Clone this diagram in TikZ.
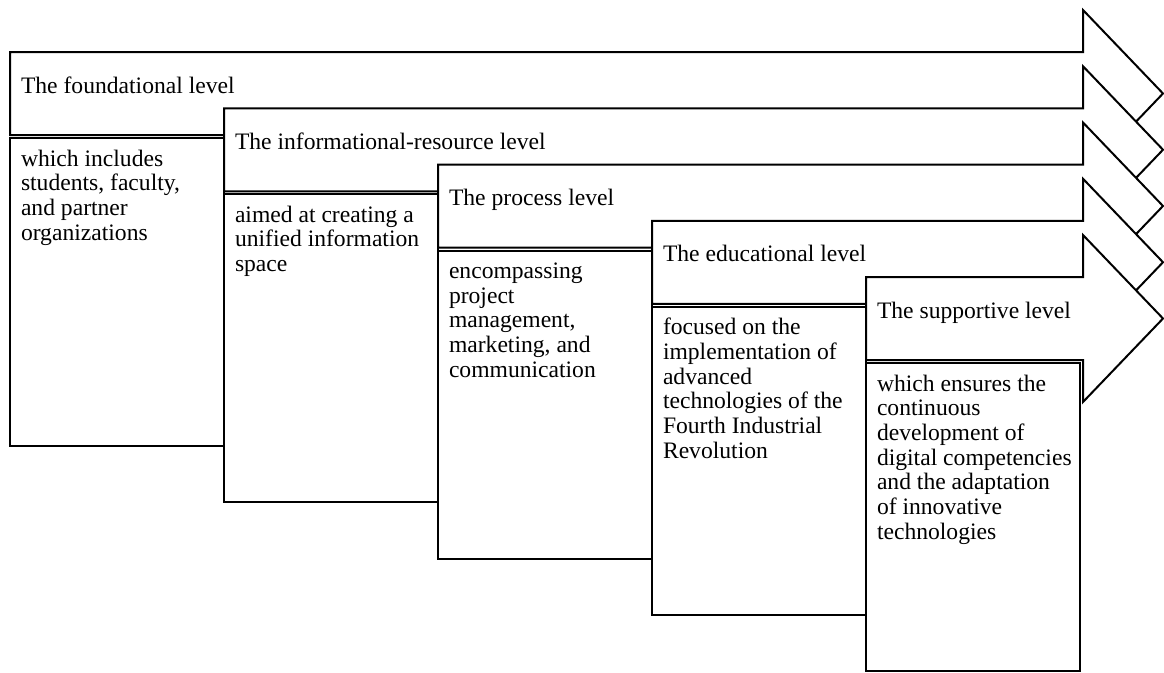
\documentclass[tikz,border=0pt]{standalone}
\usepackage{fontspec}
\setmainfont{Liberation Serif}
\newcommand{\lvfont}{\fontsize{23.6}{24.7}\selectfont}
\begin{document}
\begin{tikzpicture}[x=1pt,y=-1pt,line width=2pt,line join=miter,
  arrowshape/.style={draw=black,fill=white},
  descbox/.style={draw=black,fill=white},
  titletext/.style={anchor=base west,inner sep=0pt,font=\lvfont},
  desctext/.style={anchor=base west,inner sep=0pt,font=\lvfont}]
\useasboundingbox (0,0) rectangle (1164,672);
\foreach \i/\ttl/\dsc in {
  0/{The foundational level}/{which includes\\students, faculty,\\and partner\\organizations},
  1/{The informational-resource level}/{aimed at creating a\\unified information\\space},
  2/{The process level}/{encompassing\\project\\management,\\marketing, and\\communication},
  3/{The educational level}/{focused on the\\implementation of\\advanced\\technologies of the\\Fourth Industrial\\Revolution},
  4/{The supportive level}/{which ensures the\\continuous\\development of\\digital competencies\\and the adaptation\\of innovative\\technologies}}{
  \pgfmathsetmacro\X{10+214*\i}
  \pgfmathsetmacro\T{52+56.25*\i}
  \pgfmathsetmacro\B{\T+83}
  \pgfmathsetmacro\M{\T+41.5}
  \draw[arrowshape] (\X,\T) -- (1083,\T) -- (1083,\T-42) -- (1163,\M)
     -- (1083,\B+42) -- (1083,\B) -- (\X,\B) -- cycle;
  \node[titletext] (title\i) at (\X+10,\T+41) {\ttl};
  \draw[descbox] (\X,\B+3) rectangle (\X+214,\B+311);
  \node[desctext] (desc\i) at (\X+10,\B+31) {\parbox[t]{300pt}{\raggedright\dsc}};
}
\end{tikzpicture}
\end{document}
